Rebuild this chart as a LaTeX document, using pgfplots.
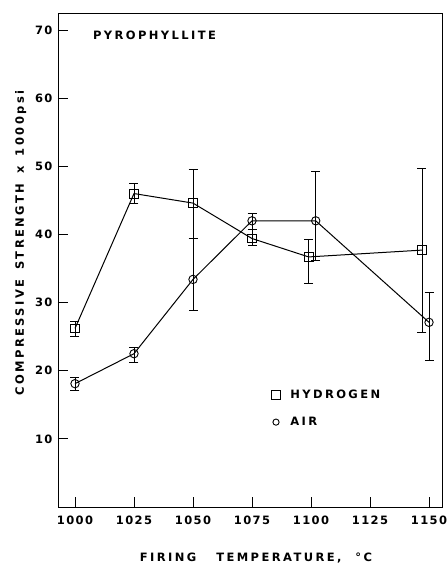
\documentclass[border=0pt]{standalone}
\usepackage{fontspec}
\setmainfont{DejaVu Sans}[LetterSpace=21]
\newfontfamily\tickfont{DejaVu Sans}[LetterSpace=12]
\usepackage{pgfplots}
\pgfplotsset{compat=1.18}
\pgfplotstableread{
x y ep em
1000 26.2 1.0 1.1
1025 46.0 1.5 1.5
1050 44.6 4.9 5.1
1075 39.4 1.3 1.0
1099 36.7 2.6 3.9
1147 37.7 12.0 12.1
}\hydrogen
\pgfplotstableread{
x y ep em
1000 18.1 1.0 0.9
1025 22.5 1.0 1.3
1050 33.4 6.0 4.6
1075 42.0 1.1 1.3
1102 42.0 7.3 5.8
1150 27.1 4.4 5.5
}\air
\newcommand\lblfont{\fontsize{11.5}{13}\selectfont\bfseries}
\newcommand\tklfont{\tickfont\fontsize{11.5}{13}\selectfont\bfseries}
\begin{document}
\begin{tikzpicture}
\begin{axis}[
  scale only axis,
  width=384pt, height=494pt,
  xmin=992.8, xmax=1155.5,
  ymin=0, ymax=72.5,
  xtick={1000,1025,...,1150},
  ytick={10,20,...,70},
  xtick pos=bottom, ytick pos=left,
  tick align=inside,
  major tick length=10pt,
  axis line style={line width=0.9pt},
  tick style={line width=0.9pt, black},
  /pgf/number format/assume math mode=true,
  /pgf/number format/set thousands separator={},
  ticklabel style={font=\tklfont},
  xticklabel style={yshift=-5pt},
  yticklabel style={xshift=-2pt},
  xlabel={FIRING\hspace{20pt}TEMPERATURE,\hspace{14pt}°C},
  ylabel={COMPRESSIVE\hspace{10pt}STRENGTH\hspace{10pt}x\hspace{10pt}1000psi},
  label style={font=\lblfont},
  xlabel style={yshift=-22pt, xshift=6pt},
  ylabel style={at={(ticklabel cs:0.534)}, yshift=2pt},
  clip=false,
  legend style={draw=none, fill=none, at={(0.556,0.241)}, anchor=north west,
    font=\lblfont, row sep=13pt, column sep=8pt, inner sep=0pt},
  legend cell align=left,
  legend image code/.code={\draw[#1] plot coordinates {(0.15cm,0cm)};},
]
\addlegendimage{only marks, mark=square, mark size=4.3pt, mark options={line width=0.9pt}}
\addlegendentry{HYDROGEN}
\addlegendimage{only marks, mark=o, mark size=3.1pt, mark options={line width=0.9pt}}
\addlegendentry{AIR}
\addplot[forget plot, black, line width=1pt, mark=square, mark size=4.4pt,
  mark options={fill=white, line width=0.9pt, solid},
  error bars/.cd, y dir=both, y explicit,
  error bar style={line width=0.6pt},
  error mark options={rotate=90, mark size=4.5pt, line width=0.6pt}]
  table[x=x, y=y, y error plus=ep, y error minus=em]{\hydrogen};
\addplot[forget plot, black, line width=1pt, mark=o, mark size=4.2pt,
  mark options={fill=white, line width=0.9pt, solid},
  error bars/.cd, y dir=both, y explicit,
  error bar style={line width=0.6pt},
  error mark options={rotate=90, mark size=4.5pt, line width=0.6pt}]
  table[x=x, y=y, y error plus=ep, y error minus=em]{\air};
\node[anchor=west, font=\lblfont] at (rel axis cs:0.082,0.955) {PYROPHYLLITE};
\end{axis}
\pgfresetboundingbox
\path[use as bounding box] ([shift={(-58pt,-57pt)}]current axis.south west) rectangle ([shift={(6pt,13pt)}]current axis.north east);
\end{tikzpicture}
\end{document}
